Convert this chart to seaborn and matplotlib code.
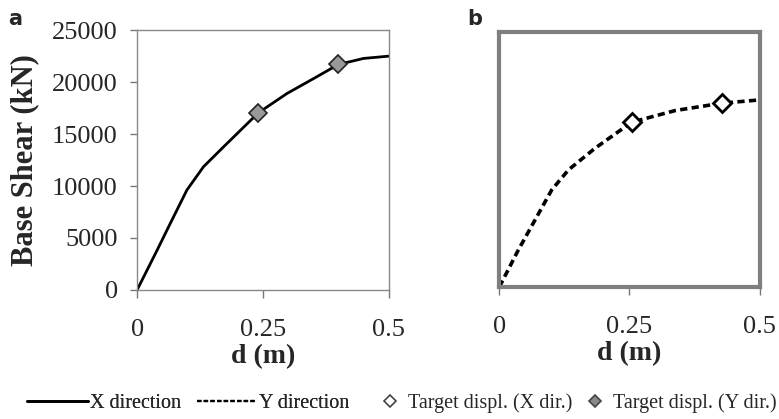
import matplotlib
matplotlib.use("Agg")
import matplotlib.pyplot as plt
from matplotlib.lines import Line2D
import pandas as pd
import seaborn as sns

# pushover curves (d in m, V in kN)
d_x = [0.0, 0.040, 0.066, 0.099, 0.132, 0.172, 0.241, 0.298, 0.351, 0.400, 0.450, 0.5]
v_x = [0, 3850, 6410, 9620, 11860, 13780, 17050, 18910, 20350, 21700, 22280, 22500]
d_y = [0.0, 0.0365, 0.0686, 0.1006, 0.1327, 0.184, 0.2545, 0.338, 0.4276, 0.5]
v_y = [0, 3630, 6570, 9510, 11470, 13600, 16150, 17290, 18010, 18330]

# target displacements
tgt_a_d = [0.241, 0.400]
tgt_a_v = [17050, 21700]
tgt_b_d = [0.2545, 0.4276]
tgt_b_v = [16150, 18010]

x_ticks = [0, 0.25, 0.5]
x_labels = ['0', '0.25', '0.5']
y_ticks = [0, 5000, 10000, 15000, 20000, 25000]

sns.set_style('white')
plt.rcParams['font.family'] = 'serif'
plt.rcParams['font.serif'] = ['Liberation Serif', 'DejaVu Serif']

fig = plt.figure(figsize=(7.79, 4.19), dpi=100)
ax1 = fig.add_axes([0.176, 0.308, 0.323, 0.620])
ax2 = fig.add_axes([0.641, 0.315, 0.334, 0.609])

df_x = pd.DataFrame({'d': d_x, 'V': v_x})
df_y = pd.DataFrame({'d': d_y, 'V': v_y})

sns.lineplot(data=df_x, x='d', y='V', ax=ax1, color='black', lw=2.0)
ax1.plot(tgt_a_d, tgt_a_v, 'D', ms=9, mfc='#999999', mec='#222222', mew=1.2)

sns.lineplot(data=df_y, x='d', y='V', ax=ax2, color='black', lw=2.6,
             linestyle=(0, (2.0, 1.2)))
ax2.plot(tgt_b_d, tgt_b_v, 'D', ms=9, mfc='white', mec='black', mew=2.0)

for ax in (ax1, ax2):
    ax.set_xlim(0, 0.5)
    ax.set_ylim(0, 25000)
    ax.set_xticks(x_ticks)
    ax.set_xticklabels(x_labels)
    ax.tick_params(axis='x', labelsize=19, length=6, width=1, color='#777777',
                   direction='out', pad=15, bottom=True)
    ax.set_xlabel('d (m)', fontsize=20, fontweight='bold', labelpad=2)

ax1.set_yticks(y_ticks)
ax1.tick_params(axis='y', labelsize=19, length=5, width=1, color='#777777',
                direction='out', left=True, pad=9)
ax1.set_ylabel('Base Shear (kN)', fontsize=22, fontweight='bold', labelpad=9)
for sp in ax1.spines.values():
    sp.set_color('#888888')
    sp.set_linewidth(1.0)

ax2.set_yticks([])
ax2.set_ylabel('')
for sp in ax2.spines.values():
    sp.set_color('#7f7f7f')
    sp.set_linewidth(3.0)

fig.text(0.010, 0.940, 'a', fontsize=15, fontweight='bold', family='DejaVu Sans')
fig.text(0.600, 0.940, 'b', fontsize=15, fontweight='bold', family='DejaVu Sans')

line_handles = [
    Line2D([], [], color='black', lw=2),
    Line2D([], [], color='black', lw=1.6, linestyle=(0, (2, 1))),
]
mark_handles = [
    Line2D([], [], ls='none', marker='D', ms=6, mfc='white', mec='#444444', mew=1.2),
    Line2D([], [], ls='none', marker='D', ms=6, mfc='#888888', mec='#444444', mew=1.2),
]
leg1 = fig.legend(line_handles, ['X direction', 'Y direction'],
                  loc='center left', bbox_to_anchor=(0.035, 0.038),
                  ncol=2, frameon=False, fontsize=14.5, handlelength=3.0,
                  handletextpad=0.1, columnspacing=0.8, borderpad=0, borderaxespad=0)
fig.add_artist(leg1)
fig.legend(mark_handles, ['Target displ. (X dir.)', 'Target displ. (Y dir.)'],
           loc='center right', bbox_to_anchor=(0.997, 0.038),
           ncol=2, frameon=False, fontsize=14.5, handlelength=1.0,
           handletextpad=0.4, columnspacing=0.6, borderpad=0, borderaxespad=0)

fig.savefig('out.png', dpi=100)
